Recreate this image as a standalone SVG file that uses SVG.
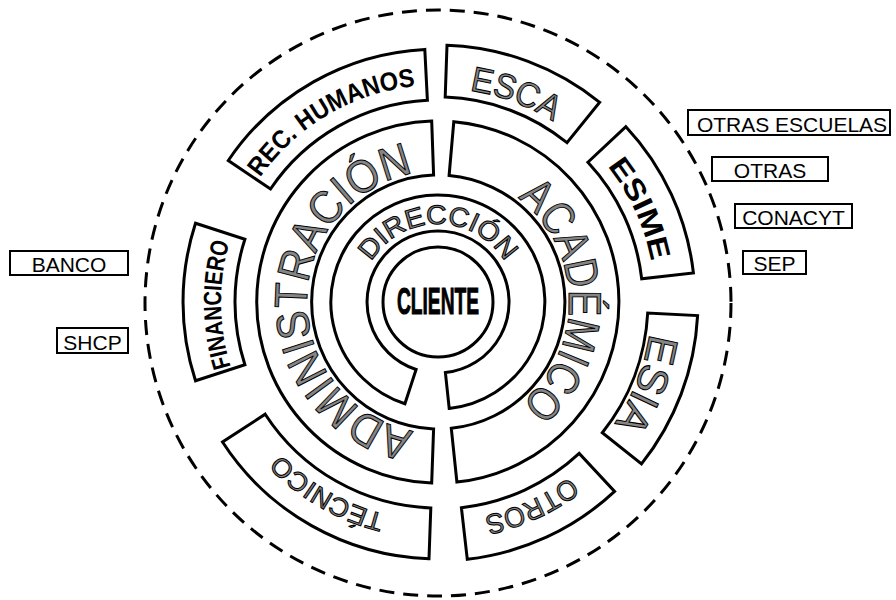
<svg xmlns="http://www.w3.org/2000/svg" xmlns:xlink="http://www.w3.org/1999/xlink" width="896" height="600" viewBox="0 0 896 600">
<style>
.ring{fill:#fff;stroke:#000;stroke-width:3;stroke-linejoin:miter}
.dash{fill:none;stroke:#000;stroke-width:3;stroke-dasharray:15 9}
.wa{font-family:"Liberation Sans",Arial,sans-serif;fill:#858585;stroke:#000;stroke-width:1}
.bk{font-family:"Liberation Sans",Arial,sans-serif;font-weight:bold;fill:#000}
.sb{fill:#fff;stroke:#000;stroke-width:2}
.st{font-family:"Liberation Sans",Arial,sans-serif;font-size:21px;fill:#000;text-anchor:middle}
</style>
<defs>
<path id="p78" d="M -78,0 A 78 78 0 0 1 78,0"/>
<path id="p131" d="M -131,0 A 131 131 0 0 1 131,0"/>
<path id="p214" d="M -214,0 A 214 214 0 0 1 214,0"/>
<path id="p217" d="M -217,0 A 217 217 0 0 1 217,0"/>
<path id="p219" d="M -219,0 A 219 219 0 0 1 219,0"/>
</defs>
<rect width="896" height="600" fill="#fff"/>

<g id="connectors">
<circle class="dash" cx="438" cy="303" r="293"/>
</g>

<g id="cliente">
<circle class="ring" cx="438" cy="302" r="55"/>
<text class="bk" font-size="37" text-anchor="middle" transform="translate(438,314) scale(0.52,1)" stroke="#000" stroke-width="1">CLIENTE</text>
</g>

<g id="direccion">
<path class="ring" d="M 404.9,403.8 A 107 107 0 1 1 449.2,408.4 L 445.4,372.6 A 71 71 0 1 0 416.1,369.5 Z"/>
<g transform="translate(438,302)"><text class="wa" font-size="27"><textPath xlink:href="#p78" href="#p78" startOffset="50%" text-anchor="middle" textLength="160" lengthAdjust="spacingAndGlyphs">DIRECCIÓN</textPath></text></g>
</g>

<g id="administracion">
<path class="ring" d="M 431.7,482.9 A 181 181 0 0 1 431.7,121.1 L 433.6,175.1 A 127 127 0 0 0 433.6,428.9 Z"/>
<g transform="translate(438,302) rotate(270)"><text class="wa" font-size="46"><textPath xlink:href="#p131" href="#p131" startOffset="50%" text-anchor="middle" textLength="362" lengthAdjust="spacingAndGlyphs">ADMINISTRACIÓN</textPath></text></g>
</g>

<g id="academico">
<path class="ring" d="M 453.8,121.7 A 181 181 0 0 1 456.9,482.0 L 451.3,428.3 A 127 127 0 0 0 449.1,175.5 Z"/>
<g transform="translate(438,302) rotate(89)"><text class="wa" font-size="46"><textPath xlink:href="#p131" href="#p131" startOffset="50%" text-anchor="middle" textLength="236" lengthAdjust="spacingAndGlyphs">ACADÉMICO</textPath></text></g>
</g>

<g id="rec-humanos">
<path class="ring" d="M 228.3,160.5 A 253 253 0 0 1 424.8,49.4 L 427.4,100.3 A 202 202 0 0 0 270.5,189.0 Z"/>
<g transform="translate(438,302) rotate(-30.5)"><text class="bk" font-size="26"><textPath xlink:href="#p217" href="#p217" startOffset="50%" text-anchor="middle" textLength="186" lengthAdjust="spacingAndGlyphs">REC. HUMANOS</textPath></text></g>
</g>

<g id="esca">
<path class="ring" d="M 447.0,45.2 A 257 257 0 0 1 599.7,102.3 L 567.0,142.7 A 205 205 0 0 0 445.2,97.1 Z"/>
<g transform="translate(438,302) rotate(20.5)"><text class="wa" font-size="35"><textPath xlink:href="#p214" href="#p214" startOffset="50%" text-anchor="middle" textLength="90" lengthAdjust="spacingAndGlyphs">ESCA</textPath></text></g>
</g>

<g id="esime">
<path class="ring" d="M 625.9,126.7 A 257 257 0 0 1 693.4,272.9 L 641.7,278.8 A 205 205 0 0 0 587.9,162.2 Z"/>
<g transform="translate(438,302) rotate(65.25)"><text class="bk" font-size="29"><textPath xlink:href="#p217" href="#p217" startOffset="50%" text-anchor="middle" textLength="106" lengthAdjust="spacingAndGlyphs">ESIME</textPath></text></g>
</g>

<g id="esia">
<path class="ring" d="M 697.6,315.6 A 260 260 0 0 1 641.5,463.9 L 602.3,432.7 A 210 210 0 0 0 647.7,313.0 Z"/>
<g transform="translate(438,302) rotate(111.5)"><text class="wa" font-size="42"><textPath xlink:href="#p214" href="#p214" startOffset="50%" text-anchor="middle" textLength="98" lengthAdjust="spacingAndGlyphs">ESIA</textPath></text></g>
</g>

<g id="otros">
<path class="ring" d="M 614.6,491.4 A 259 259 0 0 1 467.3,559.3 L 461.4,507.7 A 207 207 0 0 0 579.2,453.4 Z"/>
<g transform="translate(438,302) rotate(155.4)"><text class="wa" font-size="28"><textPath xlink:href="#p219" href="#p219" startOffset="50%" text-anchor="middle" textLength="95" lengthAdjust="spacingAndGlyphs">OTROS</textPath></text></g>
</g>

<g id="tecnico">
<path class="ring" d="M 429.0,558.8 A 257 257 0 0 1 222.5,442.0 L 265.2,414.2 A 206 206 0 0 0 430.8,507.9 Z"/>
<g transform="translate(438,302) rotate(210)"><text class="wa" font-size="26"><textPath xlink:href="#p219" href="#p219" startOffset="50%" text-anchor="middle" textLength="122" lengthAdjust="spacingAndGlyphs">TÉCNICO</textPath></text></g>
</g>

<g id="financiero">
<path class="ring" d="M 195.5,380.8 A 255 255 0 0 1 195.5,223.2 L 244.9,239.3 A 203 203 0 0 0 244.9,364.7 Z"/>
<g transform="translate(438,302) rotate(269.3)"><text class="bk" font-size="25"><textPath xlink:href="#p217" href="#p217" startOffset="50%" text-anchor="middle" textLength="126" lengthAdjust="spacingAndGlyphs">FINANCIERO</textPath></text></g>
</g>

<g id="otras-escuelas"><rect class="sb" x="688" y="110" width="202" height="25"/><text class="st" x="792" y="132">OTRAS ESCUELAS</text></g>
<g id="otras"><rect class="sb" x="712" y="157" width="116" height="24"/><text class="st" x="770" y="178">OTRAS</text></g>
<g id="conacyt"><rect class="sb" x="735" y="204" width="117" height="24"/><text class="st" x="793.5" y="225">CONACYT</text></g>
<g id="sep"><rect class="sb" x="743" y="251" width="63" height="23"/><text class="st" x="774.5" y="271">SEP</text></g>
<g id="banco"><rect class="sb" x="10" y="251" width="118" height="24"/><text class="st" x="69" y="272">BANCO</text></g>
<g id="shcp"><rect class="sb" x="57" y="328" width="71" height="25"/><text class="st" x="92.5" y="350">SHCP</text></g>
</svg>
